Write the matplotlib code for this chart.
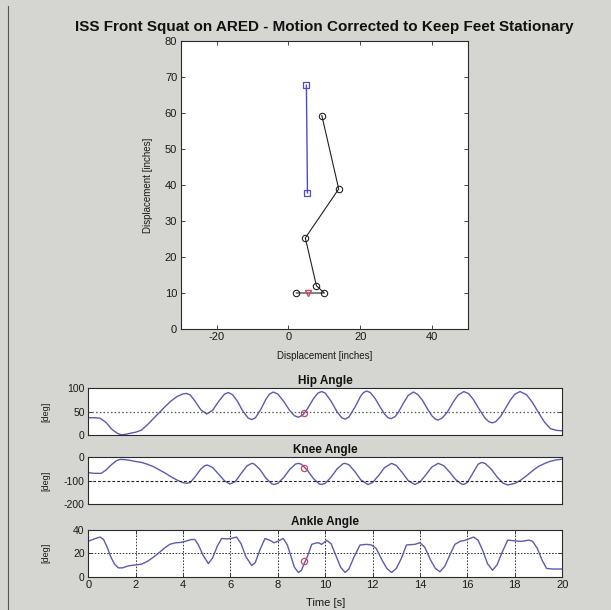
import numpy as np
import matplotlib
matplotlib.use("Agg")
import matplotlib.pyplot as plt
from matplotlib.lines import Line2D

plt.rcParams['font.family'] = ['Liberation Sans', 'DejaVu Sans']
plt.rcParams['axes.unicode_minus'] = False

# ---------------- data ----------------
title_text = "ISS Front Squat on ARED - Motion Corrected to Keep Feet Stationary"

# stick figure (inches)
torso_x = [5.0, 5.3]
torso_y = [67.7, 37.8]
leg_x = [9.3, 14.0, 4.7, 7.8, 10.0, 2.2]
leg_y = [59.3, 38.9, 25.3, 12.0, 10.0, 10.0]
cop_x = [5.5]
cop_y = [10.0]

hip_t = [0, 0.25, 0.5, 0.75, 1.0, 1.25, 1.4, 1.6, 1.8, 2.0, 2.25, 2.5, 2.75, 3.0, 3.25, 3.5, 3.75,
         4.0, 4.15, 4.3, 4.5, 4.75, 5.0, 5.25, 5.5, 5.75, 5.91, 6.1, 6.3, 6.5, 6.75, 6.9, 7.05, 7.25,
         7.5, 7.65, 7.81, 8.0, 8.25, 8.5, 8.7, 8.87, 9.05, 9.25, 9.5, 9.7, 9.85, 10.0, 10.25, 10.5,
         10.7, 10.84, 11.0, 11.25, 11.5, 11.62, 11.75, 11.9, 12.1, 12.3, 12.5, 12.65, 12.78, 12.95,
         13.1, 13.3, 13.5, 13.72, 13.9, 14.1, 14.3, 14.5, 14.65, 14.77, 14.95, 15.15, 15.4, 15.6,
         15.85, 16.05, 16.25, 16.5, 16.75, 16.9, 17.05, 17.2, 17.4, 17.6, 17.8, 18.0, 18.22, 18.5,
         18.75, 19.0, 19.25, 19.5, 19.75, 20.0]
hip_v = [37, 37, 36, 27, 12, 3, 0.5, 1.5, 4, 6, 10.5, 22, 35, 48, 61, 73, 82.5,
         88, 89, 86, 73, 54, 45, 53, 71.6, 87.5, 91, 86, 72, 53.4, 36.2, 33, 36.5, 52,
         76.6, 87.5, 92, 87.8, 72.1, 52.6, 41.3, 38, 42.4, 56, 77.4, 90, 93, 89.8, 72.3, 49.6,
         36.9, 34, 38.4, 59.2, 83.5, 91, 94, 91, 78.7, 61.4, 45.1, 37.2, 35, 39.4,
         49.8, 68.2, 84.6, 92, 87, 74.6, 57.2, 41.3, 33.9, 32, 37, 48.8, 70.4, 85.2,
         93, 88.5, 76.2, 55.1, 35.8, 28.6, 26, 28.7, 39.8, 56.4, 73.8, 87.4, 93, 86,
         69.3, 48, 27.8, 13.7, 10, 9]
hip_mark = (9.12, 47)

knee_t = [0, 0.25, 0.55, 0.75, 1.0, 1.2, 1.35, 1.55, 1.75, 2.0, 2.25, 2.5, 2.75, 3.0, 3.25, 3.5,
          3.75, 4.0, 4.15, 4.3, 4.5, 4.75, 4.9, 5.03, 5.25, 5.5, 5.75, 5.98, 6.2, 6.45, 6.7, 6.9,
          7.0, 7.25, 7.5, 7.75, 7.85, 8.0, 8.25, 8.5, 8.75, 8.87, 9.0, 9.25, 9.5, 9.75, 9.85, 10.0,
          10.25, 10.5, 10.75, 10.84, 11.0, 11.25, 11.5, 11.8, 12.0, 12.25, 12.5, 12.8, 13.0, 13.25,
          13.5, 13.78, 14.0, 14.25, 14.5, 14.77, 15.0, 15.25, 15.5, 15.75, 15.85, 16.0, 16.25,
          16.45, 16.6, 16.75, 17.0, 17.25, 17.5, 17.7, 18.0, 18.25, 18.5, 18.75, 19.0, 19.25,
          19.5, 19.75, 20.0]
knee_v = [-66, -69, -69, -55, -30, -14, -9, -10, -13, -18, -22, -30, -40, -54, -68, -84,
          -98, -109, -112, -109, -85, -51, -37, -33, -44, -72, -101, -115, -105, -70, -37, -26,
          -28.5, -53, -89.7, -114.5, -117, -112, -87, -52.5, -29, -26, -30, -56, -91, -114.6, -117, -112,
          -85, -50, -27.8, -26, -32, -61, -97, -117, -108.4, -78.8, -44.7, -26, -35, -65.7,
          -99.9, -117, -106.4, -75, -41.7, -26, -35.8, -63.6, -95.4, -115, -117, -107.7, -64.8,
          -30, -22, -26.4, -50.4, -84.2, -111, -119, -112.5, -98.3, -79, -58, -39, -27,
          -17, -11, -8]
knee_mark = (9.12, -48)

ankle_t = [0, 0.25, 0.5, 0.65, 0.8, 0.95, 1.1, 1.27, 1.45, 1.7, 2.0, 2.25, 2.5, 2.75, 2.95, 3.2,
           3.45, 3.7, 3.9, 4.1, 4.35, 4.5, 4.65, 4.85, 5.07, 5.25, 5.45, 5.63, 5.84, 6.05, 6.26,
           6.45, 6.65, 6.9, 7.05, 7.25, 7.46, 7.65, 7.84, 8.0, 8.23, 8.4, 8.52, 8.7, 8.87, 9.0,
           9.12, 9.25, 9.43, 9.6, 9.71, 9.85, 10.06, 10.25, 10.45, 10.65, 10.84, 11.0, 11.2, 11.47,
           11.75, 11.95, 12.15, 12.4, 12.6, 12.8, 13.0, 13.2, 13.43, 13.78, 14.0, 14.2, 14.45,
           14.65, 14.84, 15.05, 15.25, 15.47, 15.7, 15.9, 16.26, 16.45, 16.65, 16.85, 17.06,
           17.25, 17.45, 17.7, 17.95, 18.27, 18.6, 18.75, 18.95, 19.15, 19.34, 19.6, 20.0]
ankle_v = [30, 32, 33.6, 31.5, 25, 17, 11, 7.5, 7.5, 9.2, 10, 10.6, 13, 16.5, 19.6, 24,
           27.5, 28.8, 29, 30, 31.5, 31.5, 27, 18, 11.2, 16, 26, 32.4, 32, 32.5, 33.6,
           28, 17, 9.5, 12, 23, 32.4, 31, 28.8, 30, 32.4, 27, 19.6, 8, 3.6, 5.5,
           11.5, 17, 27.4, 28.5, 28.8, 27.4, 30.8, 28, 18, 8, 3.6, 6.5, 16, 26.9,
           27.4, 26.9, 24, 14, 7, 3.6, 7, 15, 26.9, 27.4, 28.8, 25, 14,
           7, 4.2, 9, 18, 27.4, 30, 30.8, 33.6, 31, 22, 11, 5.5,
           10, 20, 31, 30.5, 29.9, 31, 30, 24, 14, 7, 6.5, 6.5]
ankle_mark = (9.12, 12.9)

time_ticks = list(range(0, 21, 2))

# ---------------- styling ----------------
W, H = 611, 610
bg = '#d5d5d1'
curve_c = '#5b5bb0'
red_c = '#d2455a'
edge_c = '#2a2a2a'

fig = plt.figure(figsize=(W / 100, H / 100), dpi=100, facecolor=bg)


def px_axes(l, t, r, b):
    return fig.add_axes([l / W, (H - b) / H, (r - l) / W, (b - t) / H])


def style(ax, fs=7.5):
    for s in ax.spines.values():
        s.set_color(edge_c)
        s.set_linewidth(0.8)
    ax.tick_params(direction='in', top=True, right=True, length=3, width=0.6,
                   colors=edge_c, labelsize=fs, pad=2.5, labelcolor='#1a1a1a')


# ---- top panel ----
ax0 = px_axes(180.7, 41, 468, 329)
style(ax0, 8)
ax0.plot(torso_x, torso_y, '-s', color='#4b4bc6', lw=1.0, ms=4, mfc='none', mec='#4b4bc6', mew=0.9)
ax0.plot(leg_x, leg_y, '-o', color='#222222', lw=0.8, ms=4.6, mfc='none', mec='#222222', mew=0.8)
ax0.plot(cop_x, cop_y, 'v', ms=4.2, mfc='none', mec=red_c, mew=1.0)
ax0.set_xlim(-30, 50)
ax0.set_ylim(0, 80)
ax0.set_xticks([-20, 0, 20, 40])
ax0.set_yticks(range(0, 81, 10))
ax0.set_xlabel('Displacement [inches]', fontsize=7, color='#1a1a1a')
ax0.set_ylabel('Displacement [inches]', fontsize=7, color='#1a1a1a')
ax0.xaxis.set_label_coords(0.5, -0.077)
ax0.yaxis.set_label_coords(-0.098, 0.5)

fig.text(324.5 / W, 1 - 27 / H, title_text, ha='center', va='center',
         fontsize=11, fontweight='bold', color='#111111')

# ---- angle panels ----
L, R = 88.2, 562.2
ax1 = px_axes(L, 388.3, R, 435)
ax2 = px_axes(L, 457.3, R, 503.8)
ax3 = px_axes(L, 529.5, R, 576.7)

panels = [
    (ax1, hip_t, hip_v, hip_mark, (0, 100), [0, 50, 100], 'Hip Angle'),
    (ax2, knee_t, knee_v, knee_mark, (-200, 0), [-200, -100, 0], 'Knee Angle'),
    (ax3, ankle_t, ankle_v, ankle_mark, (0, 40), [0, 20, 40], 'Ankle Angle'),
]
for ax, t, v, mk, yl, yt, ttl in panels:
    style(ax, 7.5)
    ax.plot(t, v, color=curve_c, lw=1.0)
    ax.plot([mk[0]], [mk[1]], 'o', ms=4.5, mfc='none', mec=red_c, mew=0.9)
    ax.set_xlim(0, 20)
    ax.set_ylim(*yl)
    ax.set_yticks(yt)
    ax.set_title(ttl, fontsize=8.5, fontweight='bold', pad=3, color='#111111')
    ax.set_ylabel('[deg]', fontsize=6.5, color='#1a1a1a')
    ax.yaxis.set_label_coords(-0.08, 0.5)

ax1.set_xticks([])
ax2.set_xticks([])
ax1.axhline(50, color='#555555', lw=0.9, ls=(0, (1.2, 1.8)))
ax2.axhline(-100, color='#222222', lw=0.8, ls=(0, (2.5, 1.8)))

ax3.set_xticks(time_ticks)
ax3.tick_params(axis='x', labelsize=8)
ax3.grid(True, color='#333333', lw=0.7, ls=(0, (1.6, 1.6)))
ax3.set_axisbelow(True)
ax3.set_xlabel('Time [s]', fontsize=8, color='#1a1a1a')
ax3.xaxis.set_label_coords(0.5, -0.45)

# window border on the left
fig.add_artist(Line2D([8 / W, 8 / W], [0, 1 - 6 / H], transform=fig.transFigure,
                      color='#555555', lw=0.8))

fig.savefig('out.png', dpi=100, facecolor=bg)
